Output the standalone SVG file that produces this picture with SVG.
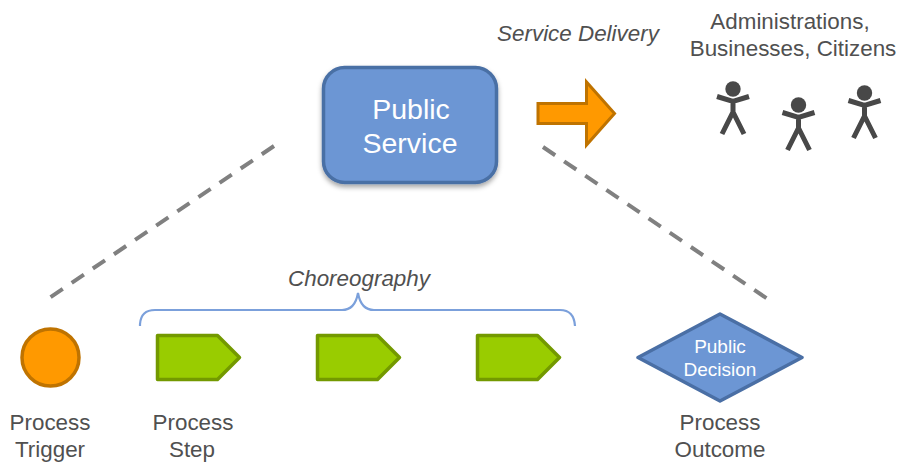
<svg xmlns="http://www.w3.org/2000/svg" width="897" height="462" viewBox="0 0 897 462">
<style>
text{font-family:"Liberation Sans",Arial,sans-serif;text-anchor:middle}
.l{font-size:22.4px;fill:#505050}
.i{font-size:22.4px;fill:#505050;font-style:italic}
.w{fill:#fff}
.d{stroke:#808080;stroke-width:4;stroke-dasharray:14.7 10.8;fill:none}
.s{fill:#9c0;stroke:#739900;stroke-width:3.5;stroke-linejoin:round}
.p{stroke:#484848;stroke-width:5;fill:none}
.h{fill:#484848}
</style>
<defs>
<filter id="sh" x="-10%" y="-10%" width="120%" height="125%"><feDropShadow dx="0" dy="3" stdDeviation="2.5" flood-color="#000" flood-opacity="0.35"/></filter>
<polygon id="step" class="s" points="0,0 60,0 82,22 60,44 0,44"/>
<g id="person"><circle class="h" cx="0" cy="0" r="7.7"/><path class="p" d="M-16,7.500L0,12.500L16,7.500M0,10V24M0,23L-11,45M0,23L11,45"/></g>
</defs>
<g id="connectors">
<path class="d" d="M274,146L50,297.500"/>
<path class="d" d="M543,147L767,298.500"/>
<path d="M140,326V324Q141,310 155,310H342Q355,310 358,293Q361,310 374,310H560Q574,310 575,326" fill="none" stroke="#7ba0db" stroke-width="2.200"/>
</g>
<g id="public-service">
<rect x="323.500" y="67.500" width="173" height="115" rx="21" fill="#6c96d4" stroke="#4a6fa5" stroke-width="3.500" filter="url(#sh)"/>
<text class="w" x="411" y="119" font-size="28.500">Public</text>
<text class="w" x="410" y="153" font-size="28.500">Service</text>
</g>
<g id="delivery-arrow">
<polygon points="538,103.500 586.500,103.500 586.500,82 614.500,113.500 586.500,145 586.500,123.500 538,123.500" fill="#f90" stroke="#bf7300" stroke-width="3"/>
</g>
<g id="service-delivery"><text class="i" x="578" y="41">Service Delivery</text></g>
<g id="actors">
<text class="l" x="790" y="29">Administrations,</text>
<text class="l" x="793" y="56">Businesses, Citizens</text>
<use href="#person" x="733" y="89"/>
<use href="#person" x="798.500" y="105"/>
<use href="#person" x="864.500" y="93"/>
</g>
<g id="process-trigger">
<circle cx="50.500" cy="357.500" r="28.500" fill="#f90" stroke="#bf7300" stroke-width="3.500"/>
<text class="l" x="50" y="430">Process</text>
<text class="l" x="50" y="457">Trigger</text>
</g>
<g id="choreography"><text class="i" x="359" y="286">Choreography</text></g>
<g id="process-step-1">
<use href="#step" x="157.500" y="335.500"/>
<text class="l" x="193" y="430">Process</text>
<text class="l" x="192" y="457">Step</text>
</g>
<g id="process-step-2"><use href="#step" x="317.500" y="335.500"/></g>
<g id="process-step-3"><use href="#step" x="477.500" y="335.500"/></g>
<g id="process-outcome">
<polygon points="720,314 802,357.500 720,401 638,357.500" fill="#6c96d4" stroke="#4a6fa5" stroke-width="3.500" stroke-linejoin="round"/>
<text class="w" x="720" y="353" font-size="19">Public</text>
<text class="w" x="720" y="376" font-size="19">Decision</text>
<text class="l" x="720" y="430">Process</text>
<text class="l" x="720" y="457">Outcome</text>
</g>
</svg>
